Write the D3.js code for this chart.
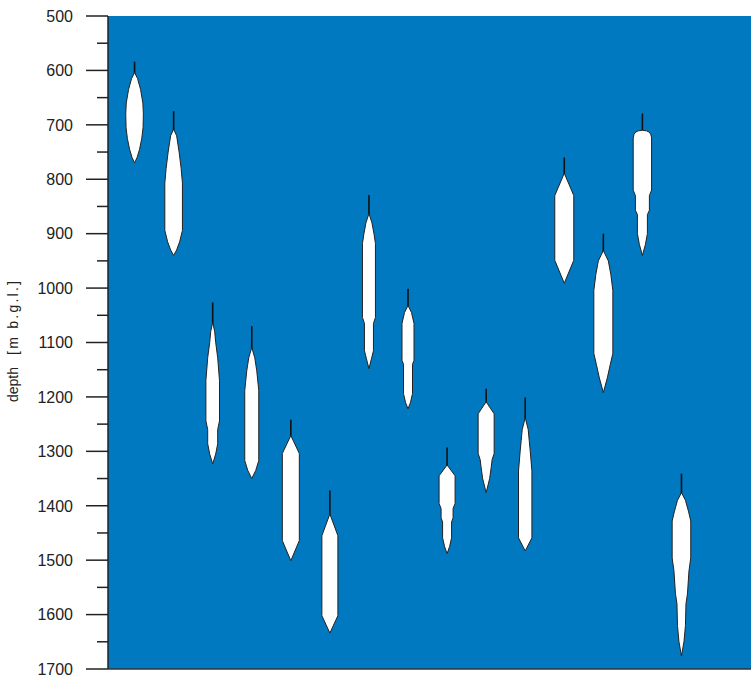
<!DOCTYPE html>
<html>
<head>
<meta charset="utf-8">
<script src="https://cdn.jsdelivr.net/npm/d3@7"></script>
<style>
  html, body { margin: 0; padding: 0; background: #fff; }
  svg { display: block; }
</style>
</head>
<body>
<svg id="chart" width="751" height="680"></svg>
<script>
// ---- data ----
const wells = [1, 2, 3, 4, 5, 6, 7, 8, 9, 10, 11, 12, 13, 14, 15];
// top of stem (depth, m)
const stemTops = [584, 675, 1026, 1070, 1242, 1372, 829, 1001, 1293, 1185, 1201, 760, 900, 679, 1341];
// profiles: [depth, relative half-width]
const profile1 = [[604,0],[615,3],[635,6],[660,8.3],[680,8.8],[705,8.5],[725,7.2],[745,5],[760,2.5],[770,0]];
const profile2 = [[708,0],[720,3],[750,5.5],[780,7.5],[807,8.8],[894,8.8],[915,6],[930,3],[940,0]];
const profile3 = [[1063,0],[1080,2],[1100,3],[1128,5],[1170,6.8],[1244,6.8],[1260,5],[1286,5],[1305,3],[1323,0]];
const profile4 = [[1109,0],[1128,3],[1152,5],[1188,7],[1317,7],[1335,4],[1350,0]];
const profile5 = [[1271,0],[1304,8.5],[1464,8.5],[1501,0]];
const profile6 = [[1415,0],[1455,8],[1602,8],[1634,0]];
const profile7 = [[863,0],[880,3],[900,5],[918,6.5],[1054,6.5],[1065,4.5],[1115,4.5],[1130,2.5],[1148,0]];
const profile8 = [[1032,0],[1045,3.5],[1065,6],[1133,6],[1140,4.5],[1194,4.5],[1210,2.5],[1222,0]];
const profile9 = [[1325,0],[1345,8],[1396,8],[1405,6],[1422,6],[1430,4.5],[1459,4.5],[1475,2.5],[1488,0]];
const profile10 = [[1209,0],[1231,8],[1304,8],[1315,6],[1330,5],[1350,3.5],[1376,0]];
const profile11 = [[1238,0],[1260,3],[1280,4],[1299,5],[1336,6.7],[1459,6.7],[1483,0]];
const profile12 = [[789,0],[830,9.5],[949,9.5],[991,0]];
const profile13 = [[931,0],[950,5],[975,7.5],[1004,9.5],[1120,9.5],[1140,7],[1165,4],[1192,0]];
const profile14 = [[710,0],[711,4],[713,6.5],[717,8.3],[724,9.2],[820,9.2],[830,7],[857,7],[865,5],[900,5],[920,3],[940,0]];
const profile15 = [[1376,0],[1390,4],[1410,7],[1428,9.3],[1496,9.3],[1520,7.5],[1562,6],[1580,4.5],[1620,4],[1650,2.5],[1676,0]];
const profiles = [profile1, profile2, profile3, profile4, profile5, profile6, profile7, profile8,
                  profile9, profile10, profile11, profile12, profile13, profile14, profile15];
const yTicks = [500, 600, 700, 800, 900, 1000, 1100, 1200, 1300, 1400, 1500, 1600, 1700];
const yLabelParts = ["depth", "[m b.g.l.]"];

// ---- layout ----
const svg = d3.select("#chart");
const mLeft = 108, mRight = 751, mTop = 16, mBottom = 669;

const x = d3.scaleLinear().domain([0.32, 16.78]).range([mLeft, mRight]);
const y = d3.scaleLinear().domain([500, 1700]).range([mTop, mBottom]);
const w = d3.scaleLinear().domain([0, 10]).range([0, 10]);

// background
svg.append("rect")
  .attr("x", mLeft).attr("y", mTop)
  .attr("width", mRight - mLeft).attr("height", mBottom - mTop)
  .attr("fill", "#0079c1");

// shapes
const g = svg.append("g");
wells.forEach((wl, i) => {
  const cx = x(wl);
  const prof = profiles[i];
  const area = d3.area()
    .x0(d => cx - w(d[1]))
    .x1(d => cx + w(d[1]))
    .y(d => y(d[0]));
  g.append("line")
    .attr("x1", cx).attr("x2", cx)
    .attr("y1", y(stemTops[i])).attr("y2", y(prof[0][0]) + 2)
    .attr("stroke", "#111").attr("stroke-width", 1.6);
  g.append("path")
    .attr("d", area(prof))
    .attr("fill", "#fff")
    .attr("stroke", "#222")
    .attr("stroke-width", 1)
    .attr("stroke-linejoin", "round");
});

// y axis
const minor = d3.range(550, 1700, 100);
const ax = svg.append("g");
ax.selectAll("line.major").data(yTicks).join("line")
  .attr("class", "major")
  .attr("x1", mLeft - 22).attr("x2", mLeft)
  .attr("y1", d => y(d)).attr("y2", d => y(d))
  .attr("stroke", "#222").attr("stroke-width", 1.5);
ax.selectAll("line.minor").data(minor).join("line")
  .attr("class", "minor")
  .attr("x1", mLeft - 11).attr("x2", mLeft)
  .attr("y1", d => y(d)).attr("y2", d => y(d))
  .attr("stroke", "#222").attr("stroke-width", 1.5);
ax.selectAll("text").data(yTicks).join("text")
  .attr("x", mLeft - 35).attr("y", d => y(d))
  .attr("dy", "0.36em")
  .attr("text-anchor", "end")
  .attr("font-family", "Liberation Sans, Arial, sans-serif")
  .attr("font-size", 16)
  .attr("fill", "#222")
  .text(d => d);
ax.append("line")
  .attr("x1", mLeft).attr("x2", mLeft).attr("y1", mTop).attr("y2", mBottom)
  .attr("stroke", "#222").attr("stroke-width", 1.5);
svg.append("line")
  .attr("x1", mLeft).attr("x2", mRight).attr("y1", mBottom).attr("y2", mBottom)
  .attr("stroke", "#333").attr("stroke-width", 1.5);

// y label (rotated), starts at y=402 going up
const lab = svg.append("text")
  .attr("transform", "translate(18, 402) rotate(-90)")
  .attr("font-family", "Liberation Sans, Arial, sans-serif")
  .attr("font-size", 14)
  .attr("fill", "#222");
lab.append("tspan").attr("x", 0).text(yLabelParts[0]);
lab.append("tspan").attr("x", 47)
  .attr("textLength", 74).attr("lengthAdjust", "spacing")
  .text(yLabelParts[1]);
</script>
</body>
</html>
